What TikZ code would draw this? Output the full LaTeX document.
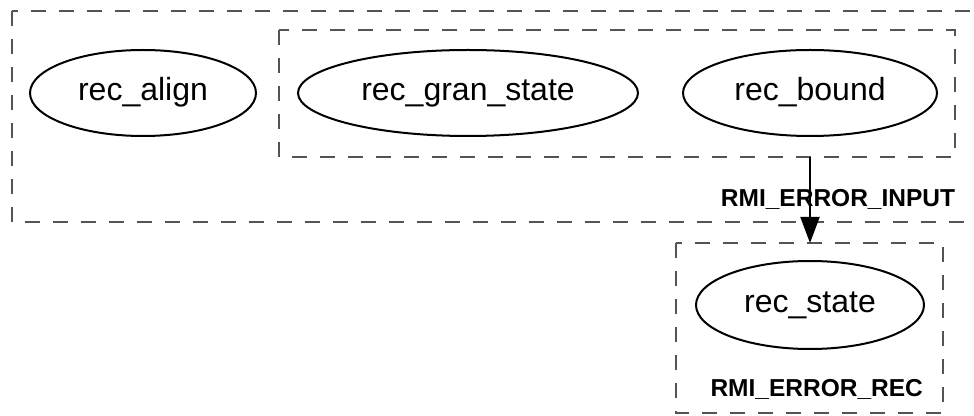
\documentclass[tikz,border=0pt]{standalone}
\usepackage{fontspec}
\setmainfont{Liberation Sans}
\usetikzlibrary{arrows.meta,shapes.geometric}
\begin{document}
\begin{tikzpicture}[x=1pt,y=1pt,
  cluster/.style={draw=black!67, line width=1.5pt, dash pattern=on 15pt off 13pt},
  statenode/.style={draw=black, line width=2pt, ellipse, inner sep=0pt,
    text height=23pt, text depth=7pt, font=\fontsize{32}{34}\selectfont},
  grouplabel/.style={font=\fontsize{24.5}{26}\selectfont\bfseries, anchor=base, inner sep=0pt},
  flow/.style={draw=black, line width=2pt, -{Triangle[length=26pt,width=19pt]}}]
\useasboundingbox (0,0) rectangle (974,415);
\clip (0,0) rectangle (974,415);

% clusters
\draw[cluster] (12,404) rectangle (980,193);
\draw[cluster] (279,385) rectangle (955,258);
\draw[cluster] (676,172) rectangle (943,2);

% states
\node[statenode, minimum width=226pt, minimum height=86pt] (align) at (143,322) {rec\_align};
\node[statenode, minimum width=340pt, minimum height=86pt] (gran) at (468,322) {rec\_gran\_state};
\node[statenode, minimum width=254pt, minimum height=86pt] (bound) at (810,322) {rec\_bound};
\node[statenode, minimum width=228pt, minimum height=88pt] (state) at (810,110) {rec\_state};

% cluster labels
\node[grouplabel] (inputlbl) at (838,208.3) {RMI\_ERROR\_INPUT};
\node[grouplabel] (reclbl) at (816.7,18.3) {RMI\_ERROR\_REC};

% edge between the clusters
\coordinate (innerbottom) at (810,258);
\coordinate (rectop) at (810,172);
\draw[flow] (innerbottom) -- (rectop);
\end{tikzpicture}
\end{document}
